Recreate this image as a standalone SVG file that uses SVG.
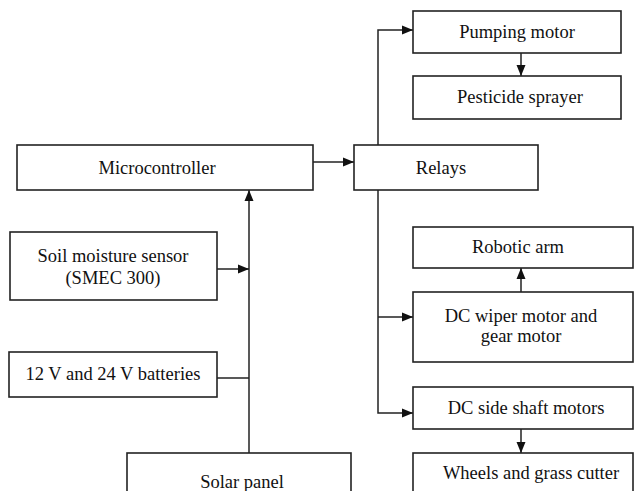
<svg xmlns="http://www.w3.org/2000/svg" width="634" height="491" viewBox="0 0 634 491">
<style>
.box{fill:#fff;stroke:#222;stroke-width:1.6}
.t{font-family:"Liberation Serif","Times New Roman",serif;font-size:18.5px;fill:#111;text-anchor:middle}
.c{fill:none;stroke:#222;stroke-width:1.5}
</style>
<defs>
<marker id="ah" markerUnits="userSpaceOnUse" markerWidth="11" markerHeight="10" viewBox="0 0 11 10" refX="11" refY="5" orient="auto">
<path d="M0,0.5 L11,5 L0,9.5 Z" fill="#111"/>
</marker>
</defs>
<rect width="634" height="491" fill="#fff"/>
<g id="connectors">
<path class="c" d="M313,162 L354,162" marker-end="url(#ah)"/>
<path class="c" d="M378,145 L378,30 L413,30" marker-end="url(#ah)"/>
<path class="c" d="M521,53 L521,76" marker-end="url(#ah)"/>
<path class="c" d="M378,190 L378,413 L413,413" marker-end="url(#ah)"/>
<path class="c" d="M378,317 L413,317" marker-end="url(#ah)"/>
<path class="c" d="M521,292 L521,268" marker-end="url(#ah)"/>
<path class="c" d="M521,429 L521,453" marker-end="url(#ah)"/>
<path class="c" d="M249,453 L249,190" marker-end="url(#ah)"/>
<path class="c" d="M217,269 L249,269" marker-end="url(#ah)"/>
<path class="c" d="M217,378 L249,378"/>
</g>
<g id="microcontroller">
<rect class="box" x="17" y="145" width="296" height="45"/>
<text class="t" x="157" y="174">Microcontroller</text>
</g>
<g id="relays">
<rect class="box" x="354" y="145" width="184" height="45"/>
<text class="t" x="441" y="174">Relays</text>
</g>
<g id="pumping-motor">
<rect class="box" x="413" y="11" width="208" height="42"/>
<text class="t" x="517" y="38">Pumping motor</text>
</g>
<g id="pesticide-sprayer">
<rect class="box" x="413" y="76" width="208" height="43"/>
<text class="t" x="520" y="103">Pesticide sprayer</text>
</g>
<g id="robotic-arm">
<rect class="box" x="413" y="227" width="220" height="41"/>
<text class="t" x="518" y="253">Robotic arm</text>
</g>
<g id="dc-wiper-motor">
<rect class="box" x="413" y="292" width="220" height="70"/>
<text class="t" x="521" y="322">DC wiper motor and</text>
<text class="t" x="521" y="342">gear motor</text>
</g>
<g id="dc-side-shaft-motors">
<rect class="box" x="413" y="387" width="220" height="42"/>
<text class="t" x="526" y="414">DC side shaft motors</text>
</g>
<g id="wheels-grass-cutter">
<rect class="box" x="413" y="453" width="220" height="50"/>
<text class="t" x="531" y="479">Wheels and grass cutter</text>
</g>
<g id="soil-moisture-sensor">
<rect class="box" x="10" y="232" width="207" height="68"/>
<text class="t" x="113" y="262">Soil moisture sensor</text>
<text class="t" x="113" y="284">(SMEC 300)</text>
</g>
<g id="batteries">
<rect class="box" x="9" y="352" width="208" height="45"/>
<text class="t" x="113" y="380">12 V and 24 V batteries</text>
</g>
<g id="solar-panel">
<rect class="box" x="127" y="453" width="224" height="50"/>
<text class="t" x="242" y="488">Solar panel</text>
</g>
</svg>
